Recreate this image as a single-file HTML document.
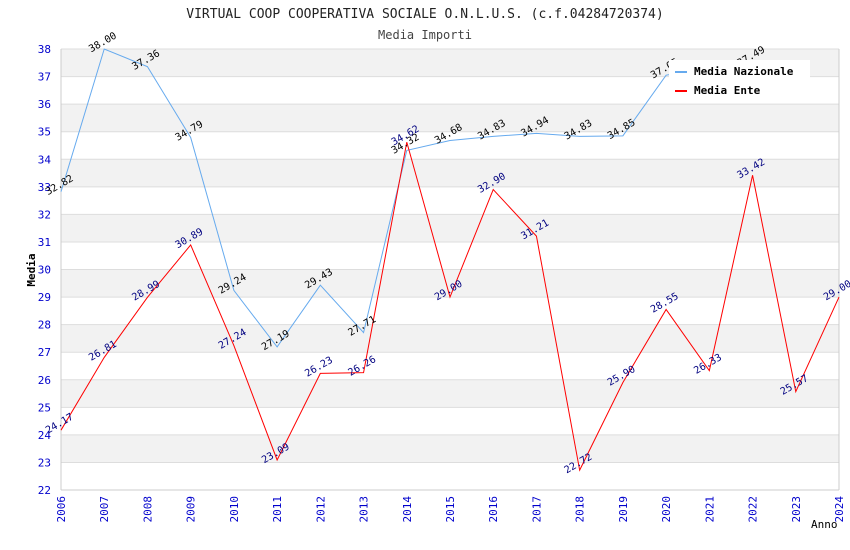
<!DOCTYPE html>
<html><head><meta charset="utf-8"><style>
body{margin:0;background:#fff;}
svg{display:block;font-family:"DejaVu Sans Mono","Liberation Mono",monospace;}
</style></head><body>
<svg id="chart" width="850" height="550">
<text x="425" y="18" text-anchor="middle" font-size="13" fill="#222">VIRTUAL COOP COOPERATIVA SOCIALE O.N.L.U.S. (c.f.04284720374)</text>
<text x="425" y="39" text-anchor="middle" font-size="12" fill="#444">Media Importi</text>
<g id="bands"></g><g id="grid"></g><g id="axes"></g><g id="series"></g><g id="labels"></g>
<text x="35" y="270" font-size="11" font-weight="bold" fill="#000" transform="rotate(-90 35 270)" text-anchor="middle">Media</text>
<text x="811" y="528" font-size="11" fill="#000">Anno</text>
<g>
<rect x="669" y="60" width="141" height="42" fill="#fff"/>
<line x1="675" y1="72" x2="687" y2="72" stroke="#66aaee" stroke-width="2"/>
<text x="694" y="75" font-size="11" font-weight="bold" fill="#000">Media Nazionale</text>
<line x1="675" y1="91" x2="687" y2="91" stroke="#ff0000" stroke-width="2"/>
<text x="694" y="94" font-size="11" font-weight="bold" fill="#000">Media Ente</text>
</g>
</svg>
<script>
const years=[2006,2007,2008,2009,2010,2011,2012,2013,2014,2015,2016,2017,2018,2019,2020,2021,2022,2023,2024];
const nazionale=[32.82,38.00,37.36,34.79,29.24,27.19,29.43,27.71,34.32,34.68,34.83,34.94,34.83,34.85,37.05,37.3,37.49];
const nazionaleShow=[1,1,1,1,1,1,1,1,1,1,1,1,1,1,1,0,1];
const ente=[24.17,26.81,28.99,30.89,27.24,23.09,26.23,26.26,34.62,29.00,32.90,31.21,22.72,25.90,28.55,26.33,33.42,25.57,29.00];
const yTicks=[22,23,24,25,26,27,28,29,30,31,32,33,34,35,36,37,38];
const NS="http://www.w3.org/2000/svg";
const x0=61,x1=839,yTop=49,yBot=490,yMin=22,yMax=38;
const X=i=>x0+(x1-x0)*(years[i]-years[0])/(years[years.length-1]-years[0]);
const Y=v=>yBot-(yBot-yTop)*(v-yMin)/(yMax-yMin);
function mk(tag,attrs,parent){const e=document.createElementNS(NS,tag);for(const k in attrs)e.setAttribute(k,attrs[k]);document.getElementById(parent).appendChild(e);return e;}
for(let v=yMin;v<yMax;v++){
  const r=mk('rect',{x:x0,y:Y(v+1),width:x1-x0,height:Y(v)-Y(v+1),fill:(v%2===1)?'#f2f2f2':'#ffffff'},'bands');
  
  
}
yTicks.forEach(v=>{
  const l=mk('line',{x1:x0,x2:x1,y1:Y(v),y2:Y(v),stroke:'#dddddd'},'grid');
  
  
  const t=mk('text',{x:x0-10,y:Y(v)+4,'text-anchor':'end','font-size':11,fill:'#0000cc'},'axes');
  t.textContent=v;
  
  
});
mk('line',{x1:x0,x2:x0,y1:yTop,y2:yBot,stroke:'#cccccc'},'axes');
mk('line',{x1:x1,x2:x1,y1:yTop,y2:yBot,stroke:'#cccccc'},'axes');
mk('line',{x1:x0,x2:x1,y1:yBot,y2:yBot,stroke:'#cccccc'},'axes');
years.forEach((yr,i)=>{
  const px=X(i),py=yBot+6;
  const t=mk('text',{x:px+4,y:py,'text-anchor':'end','font-size':11,fill:'#0000cc',transform:`rotate(-90 ${px+4} ${py})`},'axes');
  t.textContent=yr;
  
  
});
function series(data,color,labelColor,name,show){
  const p=mk('polyline',{points:data.map((v,i)=>X(i)+','+Y(v)).join(' '),fill:'none',stroke:color,'stroke-width':1},'series');
  
  
  data.forEach((v,i)=>{
    if(show&&!show[i])return;
    const px=X(i),py=Y(v);
    const t=mk('text',{x:px,y:py-4,'text-anchor':'middle','font-size':10,fill:labelColor,transform:`rotate(-30 ${px} ${py-4})`},'labels');
    t.textContent=v.toFixed(2);
    
    
  });
}
series(nazionale,'#66aaee','#000000','nazionale',nazionaleShow);
series(ente,'#ff0000','#000080','ente',null);
</script>
</body></html>
